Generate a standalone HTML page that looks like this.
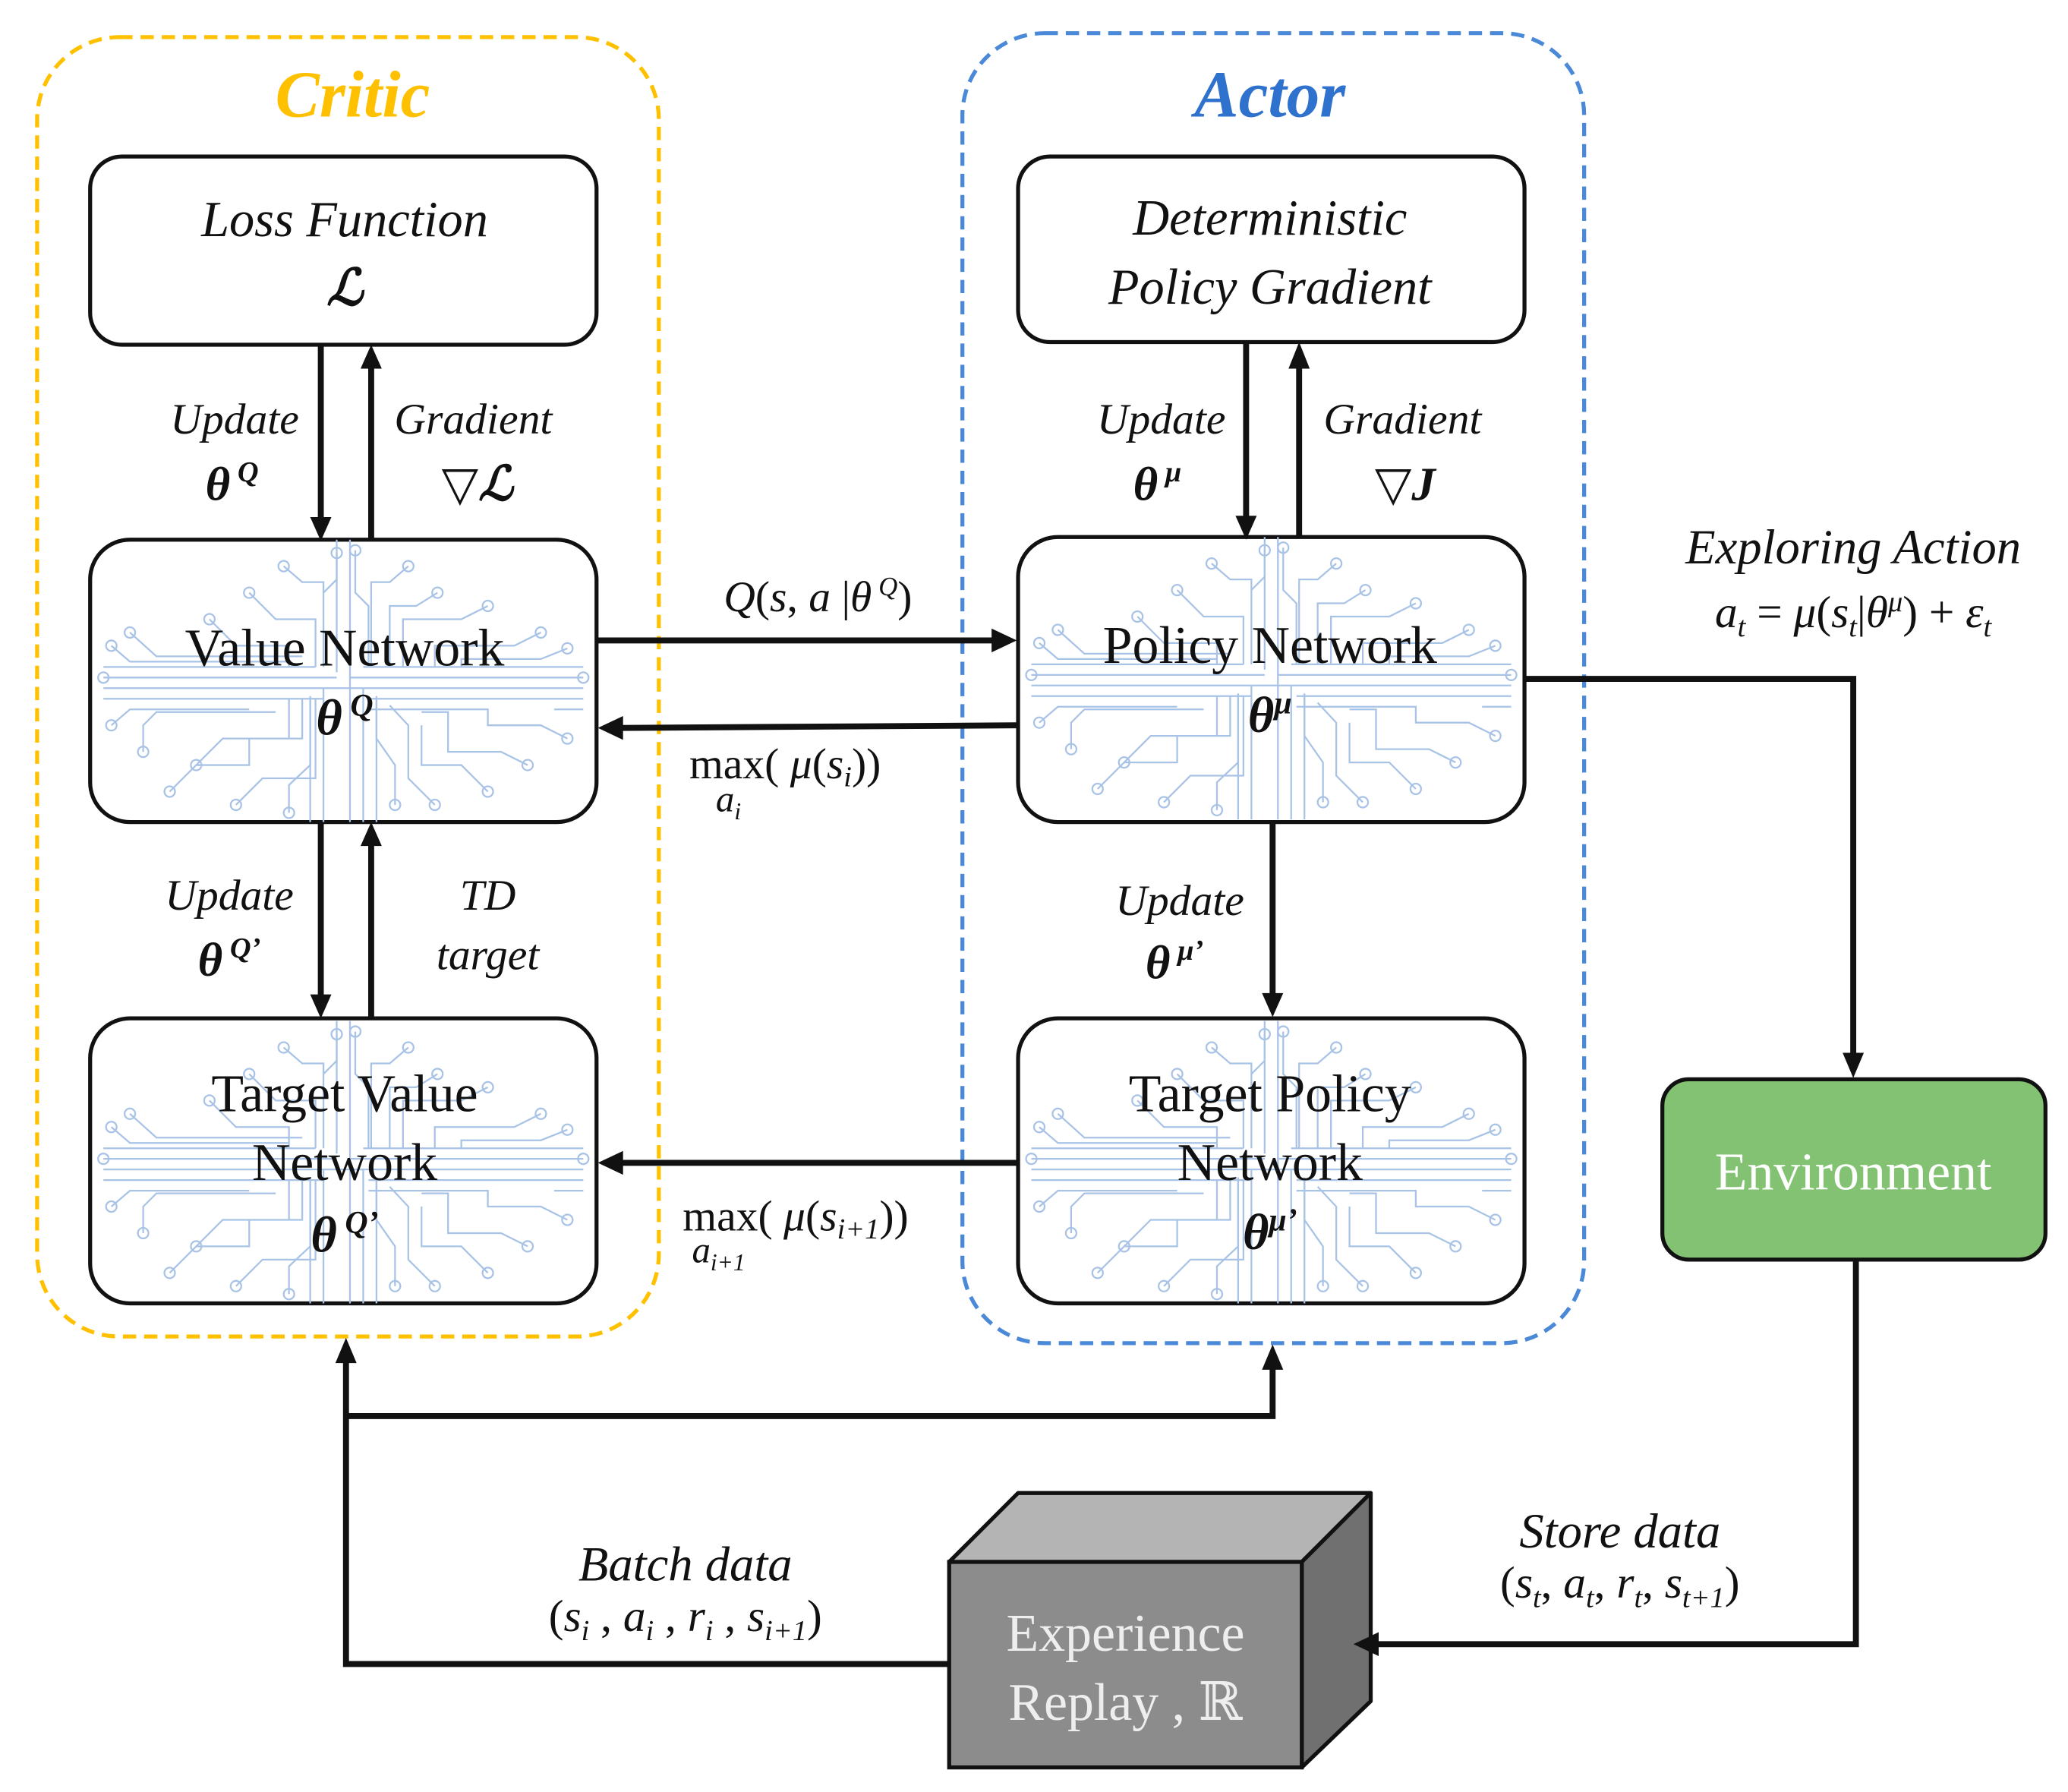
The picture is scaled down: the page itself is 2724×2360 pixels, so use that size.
<!DOCTYPE html>
<html><head><meta charset="utf-8"><style>
html,body{margin:0;padding:0;background:#fff;}
svg{display:block;}
text{font-family:"Liberation Serif","DejaVu Serif",serif;fill:#111;}
.it{font-style:italic;}
.b{font-weight:bold;}
</style></head><body>
<svg width="2724" height="2360" viewBox="0 0 1560 1351.5" xmlns="http://www.w3.org/2000/svg">
<defs>
<g id="circ" fill="none" stroke="#a9c3e6" stroke-width="1.3">
  <path d="M186 0V100 M196 0V213 M176 213V112 M206 213V112 M216 213V118 M166 213V118"/>
  <path d="M10 96H170 M10 104H186 M10 112H200 M10 120H176 M372 96H206 M372 104H196 M372 112H200 M372 120H210"/>
  <path d="M16 80L30 92H150 M30 70L50 88H160 M90 60L110 80H150V96 M120 40L140 60H170V96"/>
  <path d="M146 20L160 32H176V96 M186 10V30L176 40 M240 20L226 32H212V96 M262 40L246 50H226V96"/>
  <path d="M300 50L280 60H236V96 M340 70L320 80H260V96 M360 82L340 90H280V96 M200 8V40L210 50V96"/>
  <path d="M16 140L30 128H120 M40 160V140L50 130H140 M80 170L100 150H150V120 M60 190L80 170H120V150H160V120"/>
  <path d="M110 200L130 180H170V120 M150 206V185L166 170V120 M230 200V170L216 150V120 M260 200L240 180V140L226 125"/>
  <path d="M300 190L280 170H250V140 M330 170L310 160H270V130H250 M360 150L340 140H300V128H210 M350 128H372"/>
  <circle cx="16" cy="80" r="4"/><circle cx="30" cy="70" r="4"/><circle cx="90" cy="60" r="4"/><circle cx="120" cy="40" r="4"/>
  <circle cx="146" cy="20" r="4"/><circle cx="186" cy="10" r="4"/><circle cx="240" cy="20" r="4"/><circle cx="262" cy="40" r="4"/>
  <circle cx="300" cy="50" r="4"/><circle cx="340" cy="70" r="4"/><circle cx="360" cy="82" r="4"/><circle cx="200" cy="8" r="4"/>
  <circle cx="16" cy="140" r="4"/><circle cx="40" cy="160" r="4"/><circle cx="80" cy="170" r="4"/><circle cx="60" cy="190" r="4"/>
  <circle cx="110" cy="200" r="4"/><circle cx="150" cy="206" r="4"/><circle cx="230" cy="200" r="4"/><circle cx="260" cy="200" r="4"/>
  <circle cx="300" cy="190" r="4"/><circle cx="330" cy="170" r="4"/><circle cx="360" cy="150" r="4"/><circle cx="10" cy="104" r="4"/><circle cx="372" cy="104" r="4"/>
</g>
</defs>

<!-- group boxes -->
<rect x="28" y="28" width="469" height="980" rx="62" fill="none" stroke="#FFC000" stroke-width="3" stroke-dasharray="10,6"/>
<rect x="726" y="25" width="469" height="988" rx="62" fill="none" stroke="#4A88D8" stroke-width="3" stroke-dasharray="10,6"/>
<text x="266" y="88" text-anchor="middle" class="it b" font-size="50" style="fill:#FFC000">Critic</text>
<text x="958" y="88" text-anchor="middle" class="it b" font-size="50" style="fill:#2F72CE">Actor</text>

<!-- top boxes -->
<rect x="68" y="118" width="382" height="142" rx="24" fill="#fff" stroke="#111" stroke-width="3"/>
<text x="260" y="178" text-anchor="middle" class="it" font-size="38">Loss Function</text>
<text x="260" y="230" text-anchor="middle" class="it b" font-size="38">ℒ</text>
<rect x="768" y="118" width="382" height="140" rx="24" fill="#fff" stroke="#111" stroke-width="3"/>
<text x="958" y="177" text-anchor="middle" class="it" font-size="38">Deterministic</text>
<text x="958" y="229" text-anchor="middle" class="it" font-size="38">Policy Gradient</text>

<!-- network boxes -->
<g>
<rect x="68" y="407" width="382" height="213" rx="30" fill="#fff" stroke="#111" stroke-width="3"/>
<use href="#circ" x="68" y="407"/>
<text x="260" y="502" text-anchor="middle" font-size="40">Value Network</text>
<text x="260" y="554" text-anchor="middle" class="it b" font-size="38">θ<tspan font-size="24" dy="-14"> Q</tspan></text>
</g>
<g>
<rect x="768" y="405" width="382" height="215" rx="30" fill="#fff" stroke="#111" stroke-width="3"/>
<use href="#circ" x="768" y="405"/>
<text x="958" y="500" text-anchor="middle" font-size="40">Policy Network</text>
<text x="958" y="552" text-anchor="middle" class="it b" font-size="38">θ<tspan font-size="24" dy="-14">μ</tspan></text>
</g>
<g>
<rect x="68" y="768" width="382" height="215" rx="30" fill="#fff" stroke="#111" stroke-width="3"/>
<use href="#circ" x="68" y="770"/>
<text x="260" y="838" text-anchor="middle" font-size="40">Target Value</text>
<text x="260" y="890" text-anchor="middle" font-size="40">Network</text>
<text x="260" y="944" text-anchor="middle" class="it b" font-size="38">θ<tspan font-size="24" dy="-14"> Q’</tspan></text>
</g>
<g>
<rect x="768" y="768" width="382" height="215" rx="30" fill="#fff" stroke="#111" stroke-width="3"/>
<use href="#circ" x="768" y="770"/>
<text x="958" y="838" text-anchor="middle" font-size="40">Target Policy</text>
<text x="958" y="890" text-anchor="middle" font-size="40">Network</text>
<text x="958" y="942" text-anchor="middle" class="it b" font-size="38">θ<tspan font-size="24" dy="-14">μ’</tspan></text>
</g>

<!-- environment -->
<rect x="1254" y="814" width="289" height="136" rx="20" fill="#82C272" stroke="#111" stroke-width="3"/>
<text x="1398" y="897" text-anchor="middle" font-size="40" style="fill:#fff">Environment</text>

<!-- cube -->
<polygon points="716,1178 768,1126 1034,1126 982,1178" fill="#B4B4B4" stroke="#111" stroke-width="3" stroke-linejoin="round"/>
<polygon points="982,1178 1034,1126 1034,1283 982,1333" fill="#707070" stroke="#111" stroke-width="3" stroke-linejoin="round"/>
<rect x="716" y="1178" width="266" height="155" fill="#8C8C8C" stroke="#111" stroke-width="3"/>
<text x="849" y="1245" text-anchor="middle" font-size="40" style="fill:#eee">Experience</text>
<text x="849" y="1297" text-anchor="middle" font-size="40" style="fill:#eee">Replay , ℝ</text>

<!-- connectors -->
<g stroke="#111" stroke-width="4.5" fill="none">
  <path d="M242 260V392"/><path d="M280 407V276"/>
  <path d="M940 258V391"/><path d="M980 405V276"/>
  <path d="M450 483H750"/><path d="M768 547L468 549"/>
  <path d="M242 620V752"/><path d="M280 768V636"/>
  <path d="M960 620V751"/>
  <path d="M768 877H468"/>
  <path d="M1150 512H1398V796"/>
  <path d="M1400 950V1240H1038"/>
  <path d="M716 1255H261V1026"/>
  <path d="M261 1068H960V1031"/>
</g>
<g fill="#111">
  <polygon points="234,390 250,390 242,408"/>
  <polygon points="272,278 288,278 280,260"/>
  <polygon points="932,389 948,389 940,407"/>
  <polygon points="972,278 988,278 980,258"/>
  <polygon points="748,474 748,492 767,483"/>
  <polygon points="470,540 470,558 451,549"/>
  <polygon points="234,750 250,750 242,768"/>
  <polygon points="272,638 288,638 280,620"/>
  <polygon points="952,749 968,749 960,767"/>
  <polygon points="470,868 470,886 451,877"/>
  <polygon points="1390,794 1406,794 1398,813"/>
  <polygon points="1040,1231 1040,1249 1021,1240"/>
  <polygon points="253,1028 269,1028 261,1009"/>
  <polygon points="952,1033 968,1033 960,1014"/>
</g>

<!-- labels -->
<text x="177" y="327" text-anchor="middle" class="it" font-size="33">Update</text>
<text x="175" y="377" text-anchor="middle" class="it b" font-size="36">θ<tspan font-size="22" dy="-14"> Q</tspan></text>
<text x="357" y="327" text-anchor="middle" class="it" font-size="33">Gradient</text>
<text x="360" y="377" text-anchor="middle" class="it b" font-size="36">▽ℒ</text>
<text x="876" y="327" text-anchor="middle" class="it" font-size="33">Update</text>
<text x="873" y="377" text-anchor="middle" class="it b" font-size="36">θ<tspan font-size="22" dy="-14"> μ</tspan></text>
<text x="1058" y="327" text-anchor="middle" class="it" font-size="33">Gradient</text>
<text x="1060" y="377" text-anchor="middle" class="it b" font-size="36">▽J</text>

<text x="173" y="686" text-anchor="middle" class="it" font-size="33">Update</text>
<text x="173" y="736" text-anchor="middle" class="it b" font-size="36">θ<tspan font-size="22" dy="-14"> Q’</tspan></text>
<text x="368" y="686" text-anchor="middle" class="it" font-size="33">TD</text>
<text x="368" y="731" text-anchor="middle" class="it" font-size="33">target</text>
<text x="890" y="690" text-anchor="middle" class="it" font-size="33">Update</text>
<text x="886" y="738" text-anchor="middle" class="it b" font-size="36">θ<tspan font-size="22" dy="-14"> μ’</tspan></text>

<text x="617" y="461" text-anchor="middle" font-size="33"><tspan class="it">Q</tspan>(<tspan class="it">s</tspan>, <tspan class="it">a</tspan> |<tspan class="it">θ</tspan><tspan font-size="20" dy="-12" class="it"> Q</tspan><tspan dy="12">)</tspan></text>
<text x="520" y="587" font-size="33">max( <tspan class="it">μ</tspan>(<tspan class="it">s<tspan font-size="22" dy="6">i</tspan></tspan><tspan dy="-6">))</tspan></text>
<text x="540" y="612" class="it" font-size="28">a<tspan font-size="18" dy="6">i</tspan></text>
<text x="515" y="928" font-size="33">max( <tspan class="it">μ</tspan>(<tspan class="it">s<tspan font-size="22" dy="6">i+1</tspan></tspan><tspan dy="-6">))</tspan></text>
<text x="522" y="952" class="it" font-size="28">a<tspan font-size="18" dy="6">i+1</tspan></text>

<text x="1398" y="425" text-anchor="middle" class="it" font-size="37">Exploring Action</text>
<text x="1398" y="473" text-anchor="middle" font-size="34"><tspan class="it">a<tspan font-size="22" dy="7">t</tspan></tspan><tspan dy="-7"> = </tspan><tspan class="it">μ</tspan>(<tspan class="it">s<tspan font-size="22" dy="7">t</tspan></tspan><tspan dy="-7">|</tspan><tspan class="it">θ</tspan><tspan class="it" font-size="22" dy="-12">μ</tspan><tspan dy="12">) + </tspan><tspan class="it">ε<tspan font-size="22" dy="7">t</tspan></tspan></text>

<text x="1222" y="1167" text-anchor="middle" class="it" font-size="37">Store data</text>
<text x="1222" y="1205" text-anchor="middle" font-size="34">(<tspan class="it">s<tspan font-size="22" dy="7">t</tspan></tspan><tspan dy="-7">, </tspan><tspan class="it">a<tspan font-size="22" dy="7">t</tspan></tspan><tspan dy="-7">, </tspan><tspan class="it">r<tspan font-size="22" dy="7">t</tspan></tspan><tspan dy="-7">, </tspan><tspan class="it">s<tspan font-size="22" dy="7">t+1</tspan></tspan><tspan dy="-7">)</tspan></text>
<text x="517" y="1192" text-anchor="middle" class="it" font-size="37">Batch data</text>
<text x="517" y="1230" text-anchor="middle" font-size="34">(<tspan class="it">s<tspan font-size="22" dy="7">i</tspan></tspan><tspan dy="-7"> , </tspan><tspan class="it">a<tspan font-size="22" dy="7">i</tspan></tspan><tspan dy="-7"> , </tspan><tspan class="it">r<tspan font-size="22" dy="7">i</tspan></tspan><tspan dy="-7"> , </tspan><tspan class="it">s<tspan font-size="22" dy="7">i+1</tspan></tspan><tspan dy="-7">)</tspan></text>
</svg>
</body></html>
